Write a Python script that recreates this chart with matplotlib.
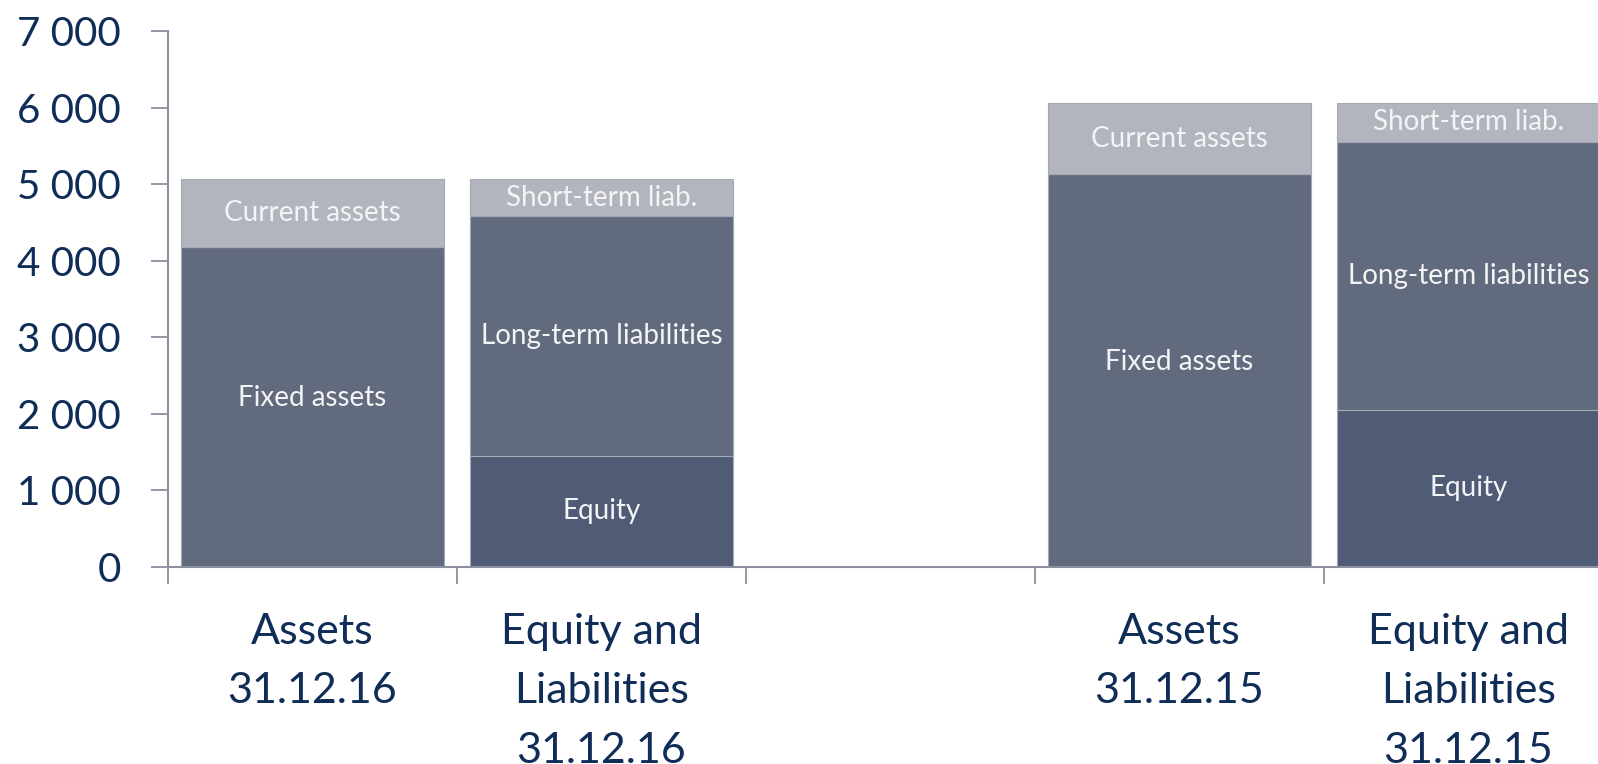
import numpy as np
import matplotlib
matplotlib.use('Agg')
import matplotlib.pyplot as plt
from matplotlib.ticker import FuncFormatter

plt.rcParams['font.family'] = ['Lato', 'DejaVu Sans']

# data
categories = ['Assets\n31.12.16', 'Equity and\nLiabilities\n31.12.16', '',
              'Assets\n31.12.15', 'Equity and\nLiabilities\n31.12.15']
positions = [0, 1, 3, 4]

# bottom, middle, top segments for each bar
bottom_vals = [4180, 1450, 5130, 2050]
middle_vals = [0, 3130, 0, 3505]
top_vals = [880, 480, 930, 505]

bottom_names = ['Fixed assets', 'Equity', 'Fixed assets', 'Equity']
middle_names = ['', 'Long-term liabilities', '', 'Long-term liabilities']
top_names = ['Current assets', 'Short-term liab.', 'Current assets', 'Short-term liab.']

c_fixed = '#626A7E'
c_equity = '#505C75'
c_light = '#B2B5BD'
bottom_colors = [c_fixed, c_equity, c_fixed, c_equity]
axis_col = '#8B8FA0'
text_col = '#0F2D57'

fig = plt.figure(figsize=(15.98, 7.64), dpi=100)
ax = fig.add_axes([168 / 1598, 1 - 566.7 / 764, 5 * 289 / 1598, (566.7 - 31) / 764])

w = 0.91
edge = dict(edgecolor='#A3A8B5', linewidth=0.8)
ax.bar(positions, bottom_vals, width=w, color=bottom_colors, **edge)
mid_bottom = np.array(bottom_vals)
ax.bar(positions, middle_vals, width=w, bottom=mid_bottom, color=c_fixed, **edge)
top_bottom = mid_bottom + np.array(middle_vals)
ax.bar(positions, top_vals, width=w, bottom=top_bottom, color=c_light, **edge)

lab = dict(ha='center', va='center', color='#F4F4F6', fontsize=20,
           textcoords='offset points')
for i, x in enumerate(positions):
    dy = 6 if bottom_names[i] == 'Fixed assets' else 0
    ax.annotate(bottom_names[i], (x, bottom_vals[i] / 2), xytext=(0, dy), **lab)
    if middle_vals[i]:
        ax.annotate(middle_names[i], (x, mid_bottom[i] + middle_vals[i] / 2),
                    xytext=(0, 0), **lab)
    ax.annotate(top_names[i], (x, top_bottom[i] + top_vals[i] / 2), xytext=(0, 0), **lab)

ax.set_xlim(-0.5, 4.5)
ax.set_ylim(0, 7000)
ax.set_yticks(np.arange(0, 7001, 1000))
ax.yaxis.set_major_formatter(FuncFormatter(lambda v, p: f'{int(v):,}'.replace(',', ' ')))

ax.set_xticks(np.arange(-0.5, 5, 1))
ax.set_xticklabels([])
ax.set_xticks(np.arange(5), minor=True)
ax.set_xticklabels(categories, minor=True, linespacing=1.7)
ax.tick_params(axis='x', which='minor', length=0, pad=33, labelsize=31, labelcolor=text_col)
ax.tick_params(axis='x', which='major', length=12, width=1.3, color=axis_col)
ax.tick_params(axis='y', length=12, width=1.3, color=axis_col, pad=22,
               labelsize=29, labelcolor=text_col)

for s in ['top', 'right']:
    ax.spines[s].set_visible(False)
for s in ['left', 'bottom']:
    ax.spines[s].set_color(axis_col)
    ax.spines[s].set_linewidth(1.5)

fig.savefig('out.png', dpi=100)
